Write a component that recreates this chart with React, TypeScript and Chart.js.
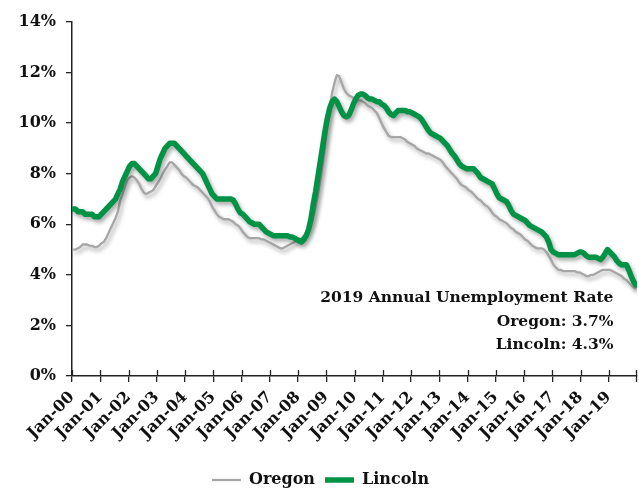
import React, { useEffect, useRef } from "react";
import { Chart, registerables } from "chart.js";

Chart.register(...registerables);

// Tick labels (one per January)
const tickLabels = [
  "Jan-00", "Jan-01", "Jan-02", "Jan-03", "Jan-04", "Jan-05", "Jan-06",
  "Jan-07", "Jan-08", "Jan-09", "Jan-10", "Jan-11", "Jan-12", "Jan-13",
  "Jan-14", "Jan-15", "Jan-16", "Jan-17", "Jan-18", "Jan-19",
];

const seriesNames = ["Lincoln", "Oregon"];

// Monthly unemployment rate (%), Jan 2000 .. Dec 2019, one row per year
const lincoln = [
  6.6, 6.6, 6.5, 6.5, 6.5, 6.4, 6.4, 6.4, 6.4, 6.3, 6.3, 6.3,
  6.4, 6.5, 6.6, 6.7, 6.8, 6.9, 7.0, 7.2, 7.4, 7.7, 7.9, 8.1,
  8.3, 8.4, 8.4, 8.3, 8.2, 8.1, 8.0, 7.9, 7.8, 7.8, 7.9, 8.0,
  8.3, 8.6, 8.8, 9.0, 9.1, 9.2, 9.2, 9.2, 9.1, 9.0, 8.9, 8.8,
  8.7, 8.6, 8.5, 8.4, 8.3, 8.2, 8.1, 8.0, 7.8, 7.6, 7.4, 7.2,
  7.1, 7.0, 7.0, 7.0, 7.0, 7.0, 7.0, 7.0, 6.95, 6.8, 6.6, 6.45,
  6.4, 6.3, 6.2, 6.1, 6.05, 6.0, 6.0, 6.0, 5.9, 5.8, 5.7, 5.65,
  5.6, 5.55, 5.55, 5.55, 5.55, 5.55, 5.55, 5.55, 5.5, 5.5, 5.45, 5.4,
  5.35, 5.3, 5.4, 5.55, 5.8, 6.2, 6.8, 7.3, 7.9, 8.5, 9.1, 9.7,
  10.2, 10.6, 10.85, 10.95, 10.85, 10.65, 10.45, 10.3, 10.25, 10.3, 10.5, 10.75,
  10.95, 11.1, 11.15, 11.15, 11.1, 11.0, 10.95, 10.95, 10.9, 10.85, 10.85, 10.75,
  10.7, 10.6, 10.45, 10.35, 10.3, 10.4, 10.5, 10.5, 10.5, 10.5, 10.45, 10.45,
  10.4, 10.35, 10.3, 10.25, 10.15, 10.0, 9.85, 9.7, 9.6, 9.55, 9.5, 9.45,
  9.4, 9.3, 9.2, 9.1, 8.95, 8.8, 8.7, 8.55, 8.4, 8.3, 8.25, 8.2,
  8.2, 8.2, 8.2, 8.1, 8.0, 7.85, 7.8, 7.75, 7.7, 7.65, 7.6, 7.4,
  7.2, 7.05, 7.0, 6.95, 6.9, 6.75, 6.55, 6.4, 6.35, 6.3, 6.25, 6.2,
  6.15, 6.05, 5.95, 5.9, 5.85, 5.8, 5.75, 5.7, 5.6, 5.5, 5.3, 5.0,
  4.9, 4.85, 4.8, 4.8, 4.8, 4.8, 4.8, 4.8, 4.8, 4.8, 4.85, 4.9,
  4.9, 4.85, 4.75, 4.7, 4.7, 4.7, 4.7, 4.65, 4.6, 4.7, 4.85, 5.0,
  4.9, 4.8, 4.7, 4.55, 4.45, 4.4, 4.4, 4.4, 4.2, 3.95, 3.75, 3.6,
];

const oregon = [
  5.0, 5.0, 5.05, 5.1, 5.2, 5.2, 5.2, 5.15, 5.15, 5.1, 5.1, 5.15,
  5.25, 5.3, 5.45, 5.65, 5.85, 6.05, 6.25, 6.5, 6.95, 7.2, 7.5, 7.75,
  7.85, 7.9, 7.85, 7.75, 7.6, 7.4, 7.25, 7.2, 7.25, 7.3, 7.35, 7.5,
  7.65, 7.8, 8.0, 8.15, 8.3, 8.45, 8.45, 8.35, 8.25, 8.15, 8.0, 7.9,
  7.85, 7.75, 7.65, 7.55, 7.5, 7.45, 7.35, 7.25, 7.15, 7.05, 6.9, 6.7,
  6.55, 6.4, 6.3, 6.25, 6.2, 6.2, 6.2, 6.15, 6.1, 6.0, 5.95, 5.85,
  5.7, 5.6, 5.5, 5.45, 5.45, 5.45, 5.45, 5.45, 5.4, 5.4, 5.35, 5.3,
  5.25, 5.2, 5.15, 5.1, 5.05, 5.05, 5.1, 5.15, 5.2, 5.25, 5.3, 5.35,
  5.4, 5.45, 5.55, 5.65, 5.8, 6.0, 6.3, 6.7, 7.2, 7.8, 8.4, 9.1,
  9.9, 10.6, 11.2, 11.6, 11.9, 11.85, 11.6, 11.35, 11.2, 11.1, 11.05, 11.0,
  10.95, 10.9, 10.9, 10.85, 10.8, 10.7, 10.65, 10.6, 10.5, 10.4, 10.2, 10.0,
  9.8, 9.65, 9.5, 9.45, 9.45, 9.45, 9.45, 9.45, 9.4, 9.35, 9.25, 9.2,
  9.15, 9.1, 9.0, 8.95, 8.9, 8.85, 8.8, 8.8, 8.75, 8.7, 8.65, 8.6,
  8.55, 8.45, 8.3, 8.2, 8.1, 8.0, 7.9, 7.8, 7.65, 7.55, 7.5, 7.45,
  7.35, 7.3, 7.2, 7.1, 7.0, 6.95, 6.85, 6.75, 6.7, 6.6, 6.45, 6.35,
  6.3, 6.2, 6.15, 6.1, 6.05, 5.95, 5.85, 5.8, 5.7, 5.65, 5.6, 5.5,
  5.4, 5.35, 5.25, 5.15, 5.1, 5.05, 5.05, 5.05, 5.0, 4.9, 4.75, 4.6,
  4.4, 4.3, 4.2, 4.2, 4.15, 4.15, 4.15, 4.15, 4.15, 4.15, 4.1, 4.1,
  4.05, 4.0, 3.95, 3.95, 4.0, 4.0, 4.05, 4.1, 4.15, 4.2, 4.2, 4.2,
  4.2, 4.15, 4.1, 4.05, 4.0, 3.95, 3.85, 3.8, 3.7, 3.6, 3.5, 3.45,
];

const yTicks = [0, 2, 4, 6, 8, 10, 12, 14];

const annotationLines = [
  "2019 Annual Unemployment Rate",
  "Oregon: 3.7%",
  "Lincoln: 4.3%",
];

const FONT_FAMILY = "'DejaVu Serif', serif";
const TEXT_COLOR = "#111111";
const AXIS_COLOR = "#222222";
const MONTHS = lincoln.length;

const toPoints = (arr: number[]) => arr.map((v, i) => ({ x: i + 0.5, y: v }));

const shadowPlugin = {
  id: "lineShadow",
  beforeDatasetDraw(chart: any) {
    const ctx = chart.ctx;
    ctx.save();
    ctx.shadowColor = "rgba(0,0,0,0.35)";
    ctx.shadowBlur = 4;
    ctx.shadowOffsetX = 2;
    ctx.shadowOffsetY = 3;
  },
  afterDatasetDraw(chart: any) {
    chart.ctx.restore();
  },
};

// Excel-style "cross" tick marks on the category axis, plus the closing tick
const crossTickPlugin = {
  id: "crossTicks",
  afterDraw(chart: any) {
    const xs = chart.scales.x;
    const ctx = chart.ctx;
    const bottom = chart.chartArea.bottom;
    ctx.save();
    ctx.strokeStyle = AXIS_COLOR;
    ctx.lineWidth = 1.3;
    const values = xs.ticks.map((t: any) => t.value);
    values.forEach((v: number) => {
      const px = Math.round(xs.getPixelForValue(v)) + 0.5;
      ctx.beginPath();
      ctx.moveTo(px, bottom - 6);
      ctx.lineTo(px, bottom);
      ctx.stroke();
    });
    const endPx = Math.round(xs.getPixelForValue(MONTHS)) - 0.5;
    ctx.beginPath();
    ctx.moveTo(endPx, bottom - 6);
    ctx.lineTo(endPx, bottom + 6);
    ctx.stroke();
    ctx.restore();
  },
};

const annotationPlugin = {
  id: "annotationText",
  afterDraw(chart: any) {
    const ctx = chart.ctx;
    const xs = chart.scales.x;
    const ys = chart.scales.y;
    const x = xs.getPixelForValue(230);
    const yVals = [3.08, 2.15, 1.23];
    ctx.save();
    ctx.font = `bold 15.5px ${FONT_FAMILY}`;
    ctx.fillStyle = TEXT_COLOR;
    ctx.textAlign = "right";
    ctx.textBaseline = "middle";
    annotationLines.forEach((line, i) => {
      ctx.fillText(line, x, ys.getPixelForValue(yVals[i]));
    });
    ctx.restore();
  },
};

export default function App() {
  const canvasRef = useRef<HTMLCanvasElement | null>(null);

  useEffect(() => {
    document.body.style.margin = "0";
    const canvas = canvasRef.current;
    if (!canvas) return;
    const font = { family: FONT_FAMILY, size: 16, weight: "bold" as const };
    const chart = new Chart(canvas, {
      type: "line",
      data: {
        datasets: [
          {
            label: seriesNames[0],
            data: toPoints(lincoln),
            borderColor: "#009245",
            backgroundColor: "#009245",
            borderWidth: 5.5,
            borderCapStyle: "round",
            borderJoinStyle: "round",
            pointRadius: 0,
            tension: 0,
          },
          {
            label: seriesNames[1],
            data: toPoints(oregon),
            borderColor: "#A6A6A6",
            backgroundColor: "#A6A6A6",
            borderWidth: 2.3,
            borderCapStyle: "butt",
            borderJoinStyle: "round",
            pointRadius: 0,
            tension: 0,
          },
        ],
      },
      options: {
        animation: false,
        responsive: true,
        maintainAspectRatio: false,
        devicePixelRatio: 1,
        layout: { padding: { top: 22, right: 2, left: 4, bottom: -9 } },
        plugins: {
          tooltip: { enabled: false },
          legend: {
            display: true,
            position: "bottom",
            reverse: true,
            labels: {
              usePointStyle: true,
              pointStyle: "line",
              pointStyleWidth: 29,
              font,
              color: TEXT_COLOR,
              padding: 10,
            },
          },
        },
        scales: {
          x: {
            type: "linear",
            min: 0,
            max: MONTHS,
            afterBuildTicks: (s: any) => {
              s.ticks = tickLabels.map((_, k) => ({ value: k * 12 }));
            },
            afterFit: (s: any) => {
              s.height = 86;
            },
            ticks: {
              autoSkip: false,
              minRotation: 45,
              maxRotation: 45,
              padding: 6,
              font,
              color: TEXT_COLOR,
              callback: (v: any) => tickLabels[Math.round(Number(v) / 12)] ?? "",
            },
            grid: {
              display: true,
              drawOnChartArea: false,
              drawTicks: true,
              tickLength: 6,
              color: AXIS_COLOR,
              lineWidth: 1.3,
            },
            border: { display: true, color: AXIS_COLOR, width: 1.5 },
          },
          y: {
            type: "linear",
            min: 0,
            max: 14,
            afterBuildTicks: (s: any) => {
              s.ticks = yTicks.map((v) => ({ value: v }));
            },
            afterFit: (s: any) => {
              s.width = 68;
            },
            ticks: {
              padding: 10,
              font,
              color: TEXT_COLOR,
              callback: (v: any) => `${v}%`,
            },
            grid: {
              display: true,
              drawOnChartArea: false,
              drawTicks: true,
              tickLength: 6,
              color: AXIS_COLOR,
              lineWidth: 1.3,
            },
            border: { display: true, color: AXIS_COLOR, width: 1.5 },
          },
        },
      },
      plugins: [shadowPlugin, crossTickPlugin, annotationPlugin],
    });
    return () => chart.destroy();
  }, []);

  return (
    <div style={{ position: "relative", width: 639, height: 489 }}>
      <canvas ref={canvasRef} />
    </div>
  );
}
